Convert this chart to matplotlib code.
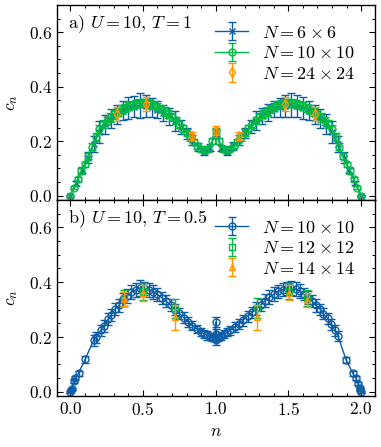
import matplotlib
matplotlib.use("Agg")
import matplotlib.pyplot as plt
from matplotlib.ticker import MultipleLocator

plt.rcParams.update({
    "font.family": "serif",
    "font.serif": ["cmr10", "DejaVu Serif"],
    "mathtext.fontset": "cm",
    "axes.formatter.use_mathtext": True,
    "axes.unicode_minus": False,
    "font.size": 12.5,
    "axes.linewidth": 1.0,
    "xtick.direction": "in",
    "ytick.direction": "in",
    "xtick.top": True,
    "ytick.right": True,
    "xtick.minor.visible": True,
    "ytick.minor.visible": True,
    "xtick.major.size": 4,
    "ytick.major.size": 4,
    "xtick.minor.size": 2,
    "ytick.minor.size": 2,
    "xtick.major.width": 0.8,
    "ytick.major.width": 0.8,
    "xtick.minor.width": 0.7,
    "ytick.minor.width": 0.7,
})

BLUE = "#0C5DA5"
GREEN = "#00B945"
ORANGE = "#FF9500"

# ---------------- panel a) U=10, T=1 ----------------
n_6 = [0.00, 0.04, 0.08, 0.12, 0.16, 0.20, 0.24, 0.28, 0.32, 0.36, 0.40, 0.44, 0.48,
       0.52, 0.56, 0.60, 0.64, 0.68, 0.72, 0.76, 0.80, 0.84, 0.88, 0.92, 0.96, 1.00,
       1.04, 1.08, 1.12, 1.16, 1.20, 1.24, 1.28, 1.32, 1.36, 1.40, 1.44, 1.48, 1.52,
       1.56, 1.60, 1.64, 1.68, 1.72, 1.76, 1.80, 1.84, 1.88, 1.92, 1.96, 2.00]
c_6 = [0.000, 0.045, 0.095, 0.140, 0.190, 0.235, 0.262, 0.283, 0.298, 0.311, 0.321, 0.327, 0.331,
       0.330, 0.325, 0.316, 0.304, 0.291, 0.274, 0.253, 0.229, 0.203, 0.180, 0.160, 0.176, 0.232,
       0.175, 0.161, 0.181, 0.204, 0.230, 0.254, 0.275, 0.292, 0.305, 0.317, 0.325, 0.330, 0.332,
       0.328, 0.322, 0.312, 0.298, 0.284, 0.263, 0.233, 0.190, 0.140, 0.094, 0.046, 0.000]
e_6 = [0.004, 0.008, 0.012, 0.020, 0.030, 0.040, 0.035, 0.035, 0.035, 0.035, 0.040, 0.040, 0.045,
       0.040, 0.035, 0.030, 0.030, 0.030, 0.035, 0.025, 0.020, 0.018, 0.015, 0.012, 0.012, 0.012,
       0.012, 0.012, 0.015, 0.018, 0.020, 0.025, 0.035, 0.030, 0.030, 0.030, 0.035, 0.040, 0.045,
       0.040, 0.040, 0.035, 0.035, 0.035, 0.035, 0.040, 0.030, 0.020, 0.012, 0.008, 0.004]

n_10 = [0.000, 0.025, 0.050, 0.075, 0.100, 0.125, 0.150, 0.175, 0.200, 0.225, 0.250, 0.275,
        0.300, 0.325, 0.350, 0.375, 0.400, 0.425, 0.450, 0.475, 0.500, 0.525, 0.550, 0.575,
        0.600, 0.625, 0.650, 0.675, 0.700, 0.725, 0.750, 0.775, 0.800, 0.825, 0.850, 0.875,
        0.900, 0.925, 0.950, 0.975, 1.000, 1.025, 1.050, 1.075, 1.100, 1.125, 1.150, 1.175,
        1.200, 1.225, 1.250, 1.275, 1.300, 1.325, 1.350, 1.375, 1.400, 1.425, 1.450, 1.475,
        1.500, 1.525, 1.550, 1.575, 1.600, 1.625, 1.650, 1.675, 1.700, 1.725, 1.750, 1.775,
        1.800, 1.825, 1.850, 1.875, 1.900, 1.925, 1.950, 1.975, 2.000]
c_10 = [0.000, 0.030, 0.060, 0.090, 0.115, 0.145, 0.180, 0.215, 0.245, 0.262, 0.275, 0.287,
        0.298, 0.308, 0.316, 0.323, 0.329, 0.334, 0.337, 0.339, 0.340, 0.339, 0.336, 0.332,
        0.326, 0.318, 0.309, 0.299, 0.288, 0.276, 0.262, 0.247, 0.231, 0.214, 0.198, 0.183,
        0.172, 0.166, 0.172, 0.200, 0.238, 0.200, 0.172, 0.167, 0.173, 0.184, 0.198, 0.214,
        0.231, 0.247, 0.262, 0.276, 0.288, 0.299, 0.309, 0.318, 0.326, 0.332, 0.336, 0.339,
        0.340, 0.339, 0.337, 0.334, 0.329, 0.323, 0.316, 0.308, 0.298, 0.287, 0.275, 0.262,
        0.245, 0.215, 0.180, 0.145, 0.115, 0.090, 0.060, 0.030, 0.000]
e_10 = [0.004, 0.006, 0.008, 0.010, 0.010, 0.012, 0.012, 0.014, 0.015, 0.015, 0.015, 0.015,
        0.015, 0.015, 0.015, 0.015, 0.015, 0.015, 0.015, 0.015, 0.015, 0.015, 0.015, 0.015,
        0.015, 0.015, 0.015, 0.015, 0.014, 0.014, 0.013, 0.013, 0.012, 0.012, 0.011, 0.010,
        0.010, 0.010, 0.010, 0.010, 0.010, 0.010, 0.010, 0.010, 0.010, 0.010, 0.011, 0.012,
        0.012, 0.013, 0.013, 0.014, 0.014, 0.015, 0.015, 0.015, 0.015, 0.015, 0.015, 0.015,
        0.015, 0.015, 0.015, 0.015, 0.015, 0.015, 0.015, 0.015, 0.015, 0.015, 0.015, 0.015,
        0.015, 0.014, 0.012, 0.012, 0.010, 0.010, 0.008, 0.006, 0.004]

n_24 = [0.32, 0.52, 0.84, 1.00, 1.16, 1.48, 1.68]
c_24 = [0.300, 0.337, 0.218, 0.239, 0.218, 0.337, 0.300]
e_24 = [0.027, 0.027, 0.015, 0.015, 0.015, 0.027, 0.027]

# ---------------- panel b) U=10, T=0.5 ----------------
n_b10 = [0.000, 0.005, 0.010, 0.023, 0.035, 0.057, 0.103, 0.160, 0.180, 0.210, 0.230,
         0.260, 0.280, 0.310, 0.335, 0.366, 0.390, 0.420, 0.450, 0.480, 0.510, 0.540,
         0.570, 0.600, 0.630, 0.660, 0.690, 0.720, 0.750, 0.780, 0.810, 0.840, 0.870,
         0.900, 0.920, 0.940, 0.960, 0.975, 0.985, 0.995, 1.000, 1.000, 1.000, 1.005,
         1.015, 1.025, 1.040, 1.060, 1.080, 1.100, 1.130, 1.160, 1.190, 1.220, 1.250,
         1.280, 1.310, 1.340, 1.370, 1.400, 1.430, 1.460, 1.490, 1.520, 1.550, 1.580,
         1.610, 1.634, 1.665, 1.690, 1.720, 1.740, 1.770, 1.790, 1.820, 1.840, 1.897,
         1.943, 1.965, 1.977, 1.990, 1.995, 2.000]
c_b10 = [0.000, 0.006, 0.012, 0.040, 0.050, 0.068, 0.119, 0.188, 0.200, 0.225, 0.240,
         0.265, 0.280, 0.302, 0.315, 0.337, 0.350, 0.364, 0.372, 0.378, 0.377, 0.372,
         0.365, 0.355, 0.343, 0.330, 0.316, 0.300, 0.286, 0.271, 0.256, 0.242, 0.230,
         0.218, 0.212, 0.206, 0.202, 0.199, 0.197, 0.196, 0.255, 0.210, 0.190, 0.196,
         0.198, 0.200, 0.204, 0.210, 0.217, 0.224, 0.236, 0.248, 0.262, 0.276, 0.290,
         0.304, 0.318, 0.333, 0.345, 0.356, 0.366, 0.373, 0.377, 0.378, 0.374, 0.367,
         0.356, 0.344, 0.330, 0.315, 0.301, 0.284, 0.268, 0.247, 0.225, 0.205, 0.117,
         0.068, 0.050, 0.030, 0.014, 0.006, 0.000]
e_b10 = [0.003, 0.003, 0.004, 0.008, 0.008, 0.010, 0.012, 0.020, 0.020, 0.020, 0.022,
         0.022, 0.022, 0.022, 0.022, 0.025, 0.025, 0.025, 0.025, 0.028, 0.025, 0.025,
         0.025, 0.022, 0.022, 0.022, 0.022, 0.020, 0.020, 0.020, 0.018, 0.018, 0.015,
         0.015, 0.015, 0.015, 0.012, 0.012, 0.012, 0.012, 0.018, 0.020, 0.020, 0.012,
         0.012, 0.012, 0.015, 0.015, 0.015, 0.015, 0.018, 0.018, 0.020, 0.020, 0.020,
         0.022, 0.022, 0.022, 0.025, 0.025, 0.025, 0.025, 0.025, 0.025, 0.025, 0.025,
         0.022, 0.022, 0.022, 0.022, 0.020, 0.020, 0.020, 0.020, 0.020, 0.018, 0.012,
         0.010, 0.008, 0.006, 0.004, 0.003, 0.003]

n_b12 = [0.37, 0.50, 0.717, 1.285, 1.505, 1.63]
c_b12 = [0.342, 0.366, 0.305, 0.306, 0.367, 0.342]
e_b12 = [0.030, 0.030, 0.035, 0.035, 0.030, 0.030]

n_b14 = [0.37, 0.50, 0.717, 1.285, 1.505, 1.63]
c_b14 = [0.338, 0.360, 0.272, 0.272, 0.362, 0.335]
e_b14 = [0.025, 0.028, 0.045, 0.045, 0.028, 0.025]

fig = plt.figure(figsize=(3.81, 4.47), dpi=100)
ax1 = fig.add_axes([0.150, 0.553, 0.834, 0.436])
ax2 = fig.add_axes([0.150, 0.114, 0.834, 0.439], sharex=ax1)

eb = dict(capsize=3, elinewidth=1.0, capthick=1.0, lw=1.0, markersize=5,
          markerfacecolor="none", markeredgewidth=1.0)

ax1.errorbar(n_6, c_6, yerr=e_6, color=BLUE, marker="x", label=r"$N=6\times6$", zorder=2, **eb)
ax1.errorbar(n_10, c_10, yerr=e_10, color=GREEN, marker="o", label=r"$N=10\times10$", zorder=3, **eb)
ax1.errorbar(n_24, c_24, yerr=e_24, color=ORANGE, marker="d", ls="none",
             label=r"$N=24\times24$", zorder=4, **eb)

ax2.errorbar(n_b10, c_b10, yerr=e_b10, color=BLUE, marker="o", label=r"$N=10\times10$", zorder=2, **eb)
ax2.errorbar(n_b12, c_b12, yerr=e_b12, color=GREEN, marker="s", ls="none",
             label=r"$N=12\times12$", zorder=3, **eb)
ax2.errorbar(n_b14, c_b14, yerr=e_b14, color=ORANGE, marker="^", ls="none",
             label=r"$N=14\times14$", zorder=4, **eb)

for ax in (ax1, ax2):
    ax.set_xlim(-0.09, 2.095)
    ax.set_ylim(-0.015, 0.70)
    ax.xaxis.set_major_locator(MultipleLocator(0.5))
    ax.xaxis.set_minor_locator(MultipleLocator(0.1))
    ax.yaxis.set_major_locator(MultipleLocator(0.2))
    ax.yaxis.set_minor_locator(MultipleLocator(0.05))
    ax.set_ylabel(r"$c_n$", labelpad=6)
    ax.legend(loc="upper right", frameon=False, handlelength=1.8, handletextpad=0.8,
              labelspacing=0.25, borderaxespad=0.7, fontsize=13)

plt.setp(ax1.get_xticklabels(), visible=False)
ax2.set_xlabel(r"$n$")
ax1.text(0.035, 0.955, r"a) $U=10$, $T=1$", transform=ax1.transAxes, va="top", ha="left", fontsize=13)
ax2.text(0.035, 0.955, r"b) $U=10$, $T=0.5$", transform=ax2.transAxes, va="top", ha="left", fontsize=13)

fig.savefig("out.png", dpi=100)
